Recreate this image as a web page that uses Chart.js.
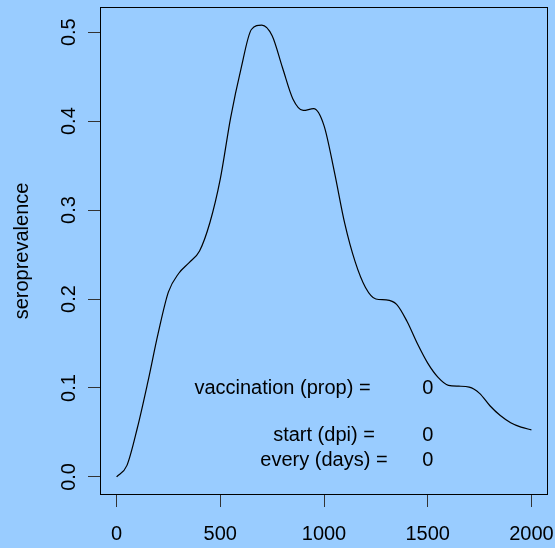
<!DOCTYPE html>
<html>
<head>
<meta charset="utf-8">
<script src="https://cdn.jsdelivr.net/npm/chart.js@4"></script>
<style>
  html, body { margin: 0; padding: 0; background: #99ccff; }
  canvas { display: block; }
</style>
</head>
<body>
<canvas id="chart1" width="555" height="548"></canvas>
<script>
// days post introduction vs seroprevalence
var days = [0, 50, 100, 150, 200, 250, 300, 350, 400, 450, 500, 550, 600, 650, 700, 750, 800, 850, 900, 950,
    1000, 1050, 1100, 1150, 1200, 1250, 1300, 1350, 1400, 1450, 1500, 1550, 1600, 1650, 1700, 1750, 1800, 1850, 1900, 1950, 2000];
var seroprevalence = [0.000, 0.013, 0.055, 0.106, 0.161, 0.208, 0.229, 0.241, 0.254, 0.286, 0.335, 0.404, 0.459, 0.503, 0.508, 0.496, 0.460, 0.425, 0.412, 0.414,
    0.395, 0.343, 0.285, 0.242, 0.213, 0.200, 0.199, 0.194, 0.175, 0.150, 0.128, 0.112, 0.103, 0.102, 0.101, 0.094, 0.080, 0.069, 0.061, 0.056, 0.053];

var xTicks = [0, 500, 1000, 1500, 2000];
var xTickLabels = ['0', '500', '1000', '1500', '2000'];
var yTicks = [0, 0.1, 0.2, 0.3, 0.4, 0.5];
var yTickLabels = ['0.0', '0.1', '0.2', '0.3', '0.4', '0.5'];

var noteLabels = ['vaccination (prop) =', 'start (dpi) =', 'every (days) ='];
var noteValues = ['0', '0', '0'];

var FONT = "'Liberation Sans', Arial, Helvetica, sans-serif";

var points = days.map(function (d, i) { return { x: d, y: seroprevalence[i] }; });

// where the notes sit, in data units
var noteX = [800, 1000, 1000];
var noteY = [0.1, 0.047, 0.018];
var valueX = 1500;

var bgPlugin = {
    id: 'bg',
    beforeDraw: function (chart) {
        var c = chart.ctx;
        c.save();
        c.fillStyle = '#99ccff';
        c.fillRect(0, 0, chart.width, chart.height);
        c.restore();
    },
    afterDatasetsDraw: function (chart) {
        var c = chart.ctx, a = chart.chartArea;
        var xs = chart.scales.x, ys = chart.scales.y;
        c.save();
        c.strokeStyle = '#000';
        c.lineWidth = 1;
        c.strokeRect(Math.round(a.left) + 0.5, Math.round(a.top) + 0.5, Math.round(a.right - a.left) - 1, Math.round(a.bottom - a.top) - 1);
        c.fillStyle = '#000';
        c.font = '20px ' + FONT;
        c.textAlign = 'center';
        c.textBaseline = 'middle';
        for (var i = 0; i < noteLabels.length; i++) {
            var py = ys.getPixelForValue(noteY[i]);
            c.fillText(noteLabels[i], xs.getPixelForValue(noteX[i]), py);
            c.fillText(noteValues[i], xs.getPixelForValue(valueX), py);
        }
        c.restore();
    }
};

var ctx = document.getElementById('chart1').getContext('2d');
var myChart = new Chart(ctx, {
    type: 'line',
    data: {
        datasets: [{
            label: 'seroprevalence',
            data: points,
            borderColor: '#000',
            borderWidth: 1.2,
            pointRadius: 0,
            fill: false,
            cubicInterpolationMode: 'monotone'
        }]
    },
    options: {
        responsive: false,
        animation: false,
        devicePixelRatio: 1,
        layout: { padding: { top: 7, right: 7, left: 0, bottom: 0 } },
        plugins: {
            legend: { display: false },
            tooltip: { enabled: false }
        },
        scales: {
            x: {
                type: 'linear',
                min: -80,
                max: 2080,
                afterBuildTicks: function (scale) {
                    scale.ticks = xTicks.map(function (v) { return { value: v }; });
                },
                afterFit: function (scale) {
                    scale.height = 53;
                    scale.paddingLeft = 0;
                    scale.paddingRight = 0;
                },
                grid: { drawOnChartArea: false, drawTicks: true, tickLength: 12, color: '#333', lineWidth: 1 },
                border: { display: false },
                ticks: {
                    color: '#000',
                    padding: 15,
                    maxRotation: 0,
                    font: { family: FONT, size: 20 },
                    callback: function (value) {
                        var i = xTicks.indexOf(value);
                        return i >= 0 ? xTickLabels[i] : '';
                    }
                }
            },
            y: {
                type: 'linear',
                min: -0.0203,
                max: 0.5283,
                afterBuildTicks: function (scale) {
                    scale.ticks = yTicks.map(function (v) { return { value: v }; });
                },
                afterFit: function (scale) {
                    scale.width = 100;
                    scale.paddingTop = 0;
                    scale.paddingBottom = 0;
                },
                grid: { drawOnChartArea: false, drawTicks: true, tickLength: 12, color: '#333', lineWidth: 1 },
                border: { display: false },
                title: {
                    display: true,
                    text: 'seroprevalence',
                    color: '#000',
                    font: { family: FONT, size: 20 },
                    padding: { top: 10, bottom: 0 }
                },
                ticks: {
                    color: '#000',
                    padding: 5,
                    minRotation: 90,
                    maxRotation: 90,
                    crossAlign: 'center',
                    font: { family: FONT, size: 20 },
                    callback: function (value) {
                        var i = yTicks.indexOf(value);
                        return i >= 0 ? yTickLabels[i] : '';
                    }
                }
            }
        }
    },
    plugins: [bgPlugin]
});
</script>
</body>
</html>
